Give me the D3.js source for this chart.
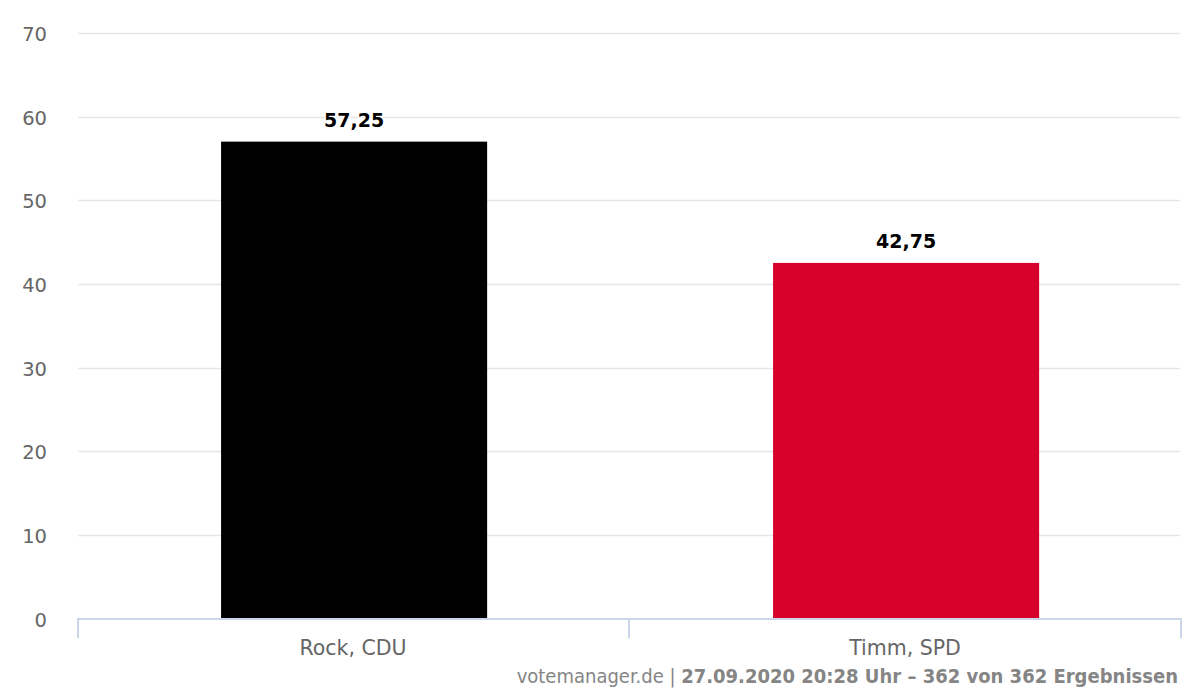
<!DOCTYPE html>
<html><head><meta charset="utf-8">
<script src="https://cdn.jsdelivr.net/npm/d3@7"></script>
<style>html,body{margin:0;padding:0;background:#fff;}svg{display:block;}</style>
</head><body>
<svg id="chart" width="1200" height="692"></svg>
<script>
const categories = ["Rock, CDU", "Timm, SPD"];
const values = [57.25, 42.75];
const labels = ["57,25", "42,75"];
const colors = ["#000000", "#d7002a"];
const yTicks = [0, 10, 20, 30, 40, 50, 60, 70];
const footerPlain = "votemanager.de | ";
const footerBold = "27.09.2020 20:28 Uhr – 362 von 362 Ergebnissen";

(function () {
const svg = d3.select("#chart");
const pLeft = 77, pRight = 1181, pTop = 34, pBottom = 619.5;
const font = "'DejaVu Sans', sans-serif";

const x = d3.scaleBand().domain(categories).range([pLeft, pRight]).padding(0);
const y = d3.scaleLinear().domain([0, 70]).range([pBottom, pTop]);

// gridlines
svg.append("g").selectAll("line").data(yTicks.filter(t => t > 0)).join("line")
  .attr("x1", 78).attr("x2", 1180)
  .attr("y1", d => Math.round(y(d)) - 0.5).attr("y2", d => Math.round(y(d)) - 0.5)
  .attr("stroke", "#e6e6e6").attr("stroke-width", 1.5);

// y labels
svg.append("g").selectAll("text").data(yTicks).join("text")
  .attr("x", 47).attr("y", d => y(d) + 7)
  .attr("text-anchor", "end")
  .attr("font-family", font).attr("font-size", 19.5).attr("fill", "#666666")
  .text(d => d);

// bars
const barOffset = 0.261, barFrac = 0.482;
svg.append("g").selectAll("rect").data(values).join("rect")
  .attr("x", (d, i) => x(categories[i]) + x.bandwidth() * barOffset)
  .attr("width", x.bandwidth() * barFrac)
  .attr("y", d => y(d) + 1)
  .attr("height", d => y(0) - y(d) - 1)
  .attr("fill", (d, i) => colors[i]);

// x axis line and ticks
svg.append("line").attr("x1", 78).attr("x2", 1181)
  .attr("y1", 619).attr("y2", 619)
  .attr("stroke", "#ccd6eb").attr("stroke-width", 2);
const xTickPos = [78, ...categories.map(c => x(c) + x.bandwidth())];
svg.append("g").selectAll("line").data(xTickPos).join("line")
  .attr("x1", d => d).attr("x2", d => d)
  .attr("y1", 618).attr("y2", 638)
  .attr("stroke", "#ccd6eb").attr("stroke-width", 2);

// x labels
svg.append("g").selectAll("text").data(categories).join("text")
  .attr("x", d => x(d) + x.bandwidth() / 2).attr("y", 655)
  .attr("text-anchor", "middle")
  .attr("font-family", font).attr("font-size", 20.5).attr("fill", "#666666")
  .text(d => d);

// data labels
svg.append("g").selectAll("text").data(values).join("text")
  .attr("x", (d, i) => x(categories[i]) + x.bandwidth() * (barOffset + barFrac / 2))
  .attr("y", d => y(d) - 14)
  .attr("text-anchor", "middle")
  .attr("font-family", font).attr("font-size", 19).attr("font-weight", "bold")
  .attr("fill", "#000000")
  .attr("stroke", "#ffffff").attr("stroke-width", 3).attr("paint-order", "stroke")
  .text((d, i) => labels[i]);

// footer
const ft = svg.append("text").attr("x", 1178).attr("y", 683)
  .attr("text-anchor", "end")
  .attr("font-family", "'DejaVu Sans Condensed', 'DejaVu Sans', sans-serif")
  .attr("font-size", 20).attr("fill", "#858585");
ft.append("tspan").text(footerPlain);
ft.append("tspan").attr("font-weight", "bold").text(footerBold);
})();
</script>
</body></html>
